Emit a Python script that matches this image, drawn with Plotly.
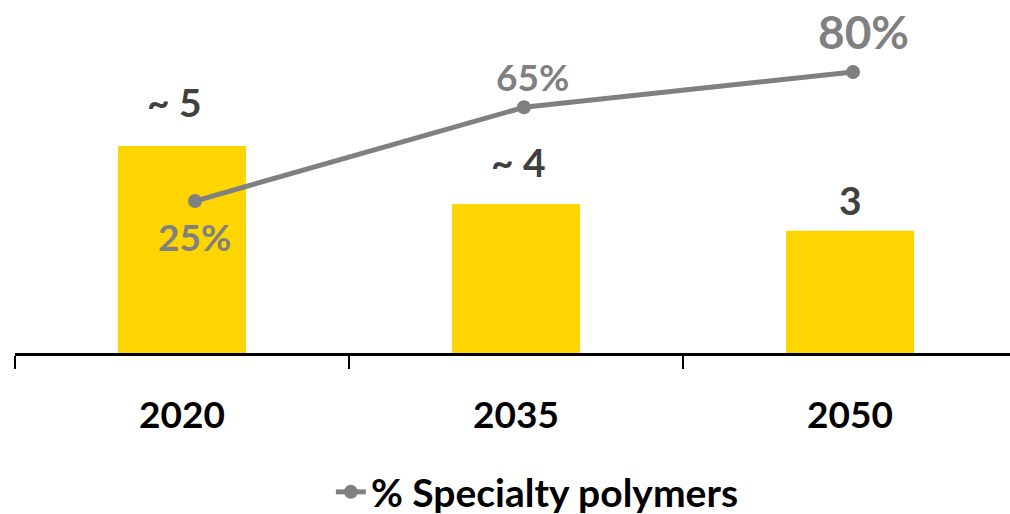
import plotly.graph_objects as go

years = ["2020", "2035", "2050"]
volumes = [5.0, 3.6, 2.95]
volume_labels = ["~ 5", "~ 4", "3"]
specialty_pct = [25, 65, 80]
specialty_labels = ["25%", "65%", "80%"]

BAR = "#FFD500"
GRAY = "#808080"
DARK = "#404040"
FONT = "Lato"

fig = go.Figure()
fig.add_trace(go.Bar(
    x=years, y=volumes, marker=dict(color=BAR, line=dict(width=0)),
    width=0.383, showlegend=False, hoverinfo="skip",
))
fig.add_trace(go.Scatter(
    x=years, y=specialty_pct, xaxis="x2", yaxis="y2", mode="lines+markers",
    name="<b>% Specialty polymers</b>",
    line=dict(color=GRAY, width=5),
    marker=dict(color=GRAY, size=14),
))

bar_shift = [19, 17, 6]
bar_xshift = [-8, 2, 0]
for i, (v, t, s, xs) in enumerate(zip(volumes, volume_labels, bar_shift, bar_xshift)):
    fig.add_annotation(x=i, y=v, xref="x", yref="y", text=f"<b>{t}</b>", showarrow=False,
                       yanchor="bottom", yshift=s, xshift=xs,
                       font=dict(family=FONT, size=39, color=DARK))

line_shift = [-35, 31, 41]
line_xshift = [0, 8, 10]
line_size = [37, 37, 46]
for i, (v, t, s, xs, fs) in enumerate(zip(specialty_pct, specialty_labels, line_shift, line_xshift, line_size)):
    fig.add_annotation(x=i, y=v, xref="x2", yref="y2", text=f"<b>{t}</b>", showarrow=False,
                       yanchor="middle", yshift=s, xshift=xs,
                       font=dict(family=FONT, size=fs, color=GRAY))

fig.update_layout(
    width=1010, height=514,
    margin=dict(l=15, r=0, t=20, b=161, autoexpand=False),
    plot_bgcolor="white", paper_bgcolor="white",
    xaxis=dict(
        type="category", range=[-0.5, 2.479],
        showline=True, linecolor="black", linewidth=3,
        ticks="outside", tickson="boundaries", ticklen=13, tickwidth=2, tickcolor="black",
        tickfont=dict(family=FONT, size=37, color="black", weight="bold"),
        showgrid=False, ticklabelstandoff=28,
    ),
    xaxis2=dict(type="category", range=[-0.547, 2.477], overlaying="x", visible=False,
                showgrid=False),
    yaxis=dict(range=[0, 8.04], visible=False, showgrid=False, zeroline=False),
    yaxis2=dict(range=[-39.8, 102.2], overlaying="y", visible=False,
                showgrid=False, zeroline=False),
    showlegend=True,
    legend=dict(orientation="h", x=0.525, xanchor="center",
                yref="container", y=22 / 514, yanchor="middle",
                font=dict(family=FONT, size=39, color="black")),
    font=dict(family=FONT),
)

fig.write_html("out.html", config={"displayModeBar": False},
               post_script="document.body.style.margin='0px';document.body.style.overflow='hidden';")
